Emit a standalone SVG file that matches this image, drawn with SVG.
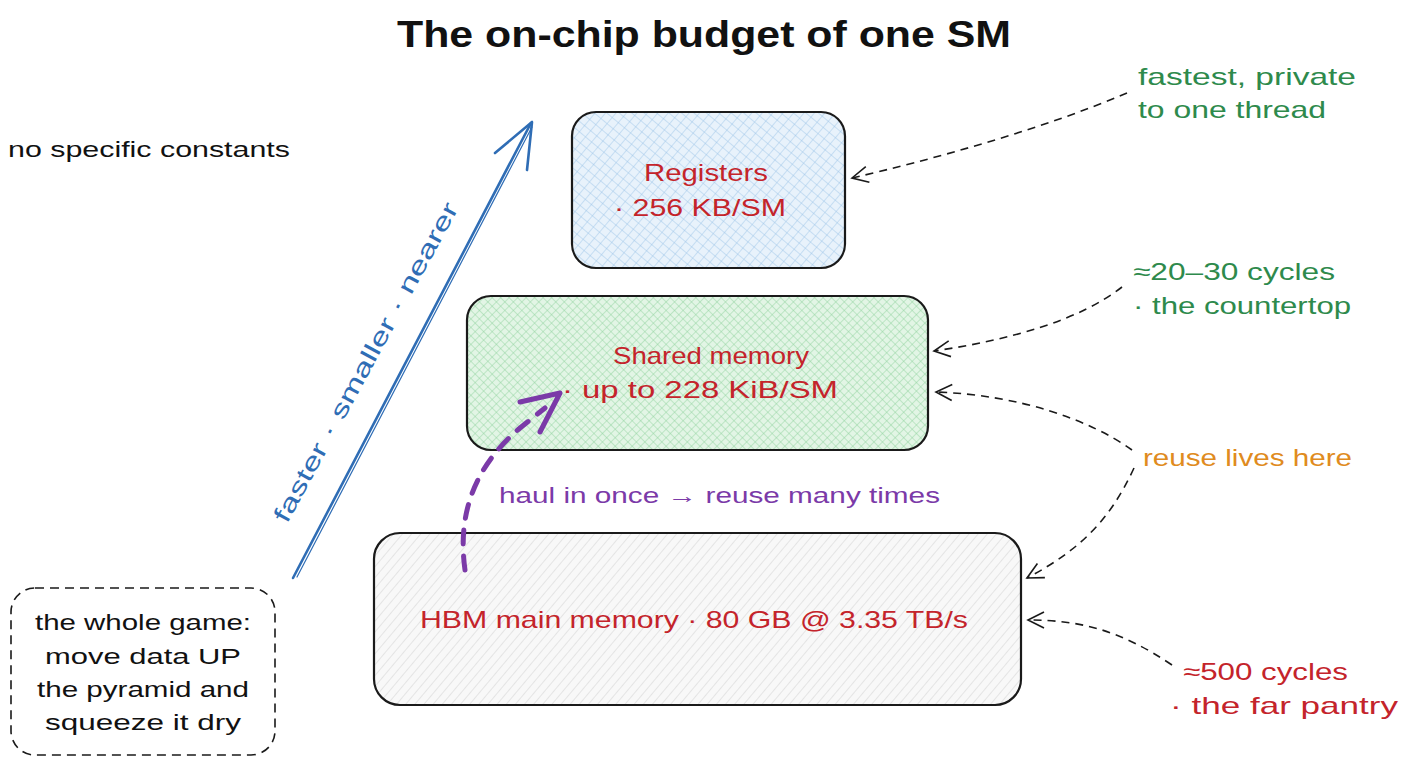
<svg xmlns="http://www.w3.org/2000/svg" width="1408" height="768" viewBox="0 0 1408 768">
<defs>
<style>
text{font-family:"Liberation Sans","DejaVu Sans",sans-serif;}
.title{font-size:37px;font-weight:bold;fill:#111;}
.red{fill:#c4242b;font-size:24px;}
.grn{fill:#2e8a4c;font-size:24px;}
.blk{fill:#111;font-size:22px;}
.box{stroke:#1a1a1a;stroke-width:2.2;}
.dash{fill:none;stroke:#1a1a1a;stroke-width:1.6;stroke-dasharray:8 6;}
</style>
<pattern id="pBlue" width="8" height="8" patternUnits="userSpaceOnUse" patternTransform="rotate(40)">
<rect width="8" height="8" fill="#e8f2fb"/>
<path d="M0,0H8M0,0V8" stroke="#9cc4e8" stroke-width="0.9"/>
</pattern>
<pattern id="pGreen" width="6" height="6" patternUnits="userSpaceOnUse" patternTransform="rotate(45)">
<rect width="6" height="6" fill="#e2f5e5"/>
<path d="M0,0H6M0,0V6" stroke="#8fd09c" stroke-width="0.9"/>
</pattern>
<pattern id="pGray" width="7" height="7" patternUnits="userSpaceOnUse" patternTransform="rotate(40)">
<rect width="7" height="7" fill="#f8f8f8"/>
<path d="M0,0V7" stroke="#cccccc" stroke-width="0.9"/>
</pattern>
<marker id="mOpen" viewBox="0 0 20 20" refX="18" refY="10" markerWidth="20" markerHeight="20" markerUnits="userSpaceOnUse" orient="auto">
<path d="M2,2 L18,10 L2,18" fill="none" stroke="#1a1a1a" stroke-width="1.6"/>
</marker>
</defs>
<rect width="1408" height="768" fill="#ffffff"/>

<text class="title" x="704" y="47" text-anchor="middle" textLength="614" lengthAdjust="spacingAndGlyphs">The on-chip budget of one SM</text>

<g id="note-constants">
<text class="blk" x="8" y="157" textLength="282" lengthAdjust="spacingAndGlyphs">no specific constants</text>
</g>

<g id="registers">
<rect class="box" x="572" y="112" width="273" height="156" rx="24" fill="url(#pBlue)"/>
<text class="red" x="706" y="181" text-anchor="middle" textLength="124" lengthAdjust="spacingAndGlyphs">Registers</text>
<text class="red" x="700" y="216" text-anchor="middle" textLength="172" lengthAdjust="spacingAndGlyphs">· 256 KB/SM</text>
</g>

<g id="shared">
<rect class="box" x="467" y="296" width="461" height="154" rx="24" fill="url(#pGreen)"/>
<text class="red" x="711" y="364" text-anchor="middle" textLength="196" lengthAdjust="spacingAndGlyphs">Shared memory</text>
<text class="red" x="700" y="398" text-anchor="middle" textLength="276" lengthAdjust="spacingAndGlyphs">· up to 228 KiB/SM</text>
</g>

<g id="hbm">
<rect class="box" x="374" y="533" width="647" height="172" rx="26" fill="url(#pGray)"/>
<text class="red" x="694" y="628" text-anchor="middle" textLength="548" lengthAdjust="spacingAndGlyphs">HBM main memory · 80 GB @ 3.35 TB/s</text>
</g>

<g id="game-note">
<rect x="11" y="588" width="264" height="167" rx="24" fill="none" stroke="#1a1a1a" stroke-width="1.6" stroke-dasharray="9 6"/>
<text class="blk" x="143" y="630" text-anchor="middle" textLength="216" lengthAdjust="spacingAndGlyphs">the whole game:</text>
<text class="blk" x="143" y="664" text-anchor="middle" textLength="196" lengthAdjust="spacingAndGlyphs">move data UP</text>
<text class="blk" x="143" y="697" text-anchor="middle" textLength="212" lengthAdjust="spacingAndGlyphs">the pyramid and</text>
<text class="blk" x="143" y="730" text-anchor="middle" textLength="196" lengthAdjust="spacingAndGlyphs">squeeze it dry</text>
</g>

<g id="ann-registers">
<text class="grn" x="1138" y="85" textLength="218" lengthAdjust="spacingAndGlyphs">fastest, private</text>
<text class="grn" x="1138" y="118" textLength="188" lengthAdjust="spacingAndGlyphs">to one thread</text>
</g>
<g id="ann-shared">
<text class="grn" x="1133" y="280" textLength="202" lengthAdjust="spacingAndGlyphs">≈20–30 cycles</text>
<text class="grn" x="1133" y="314" textLength="218" lengthAdjust="spacingAndGlyphs">· the countertop</text>
</g>
<g id="ann-reuse">
<text x="1143" y="466" fill="#e08b20" font-size="24" textLength="209" lengthAdjust="spacingAndGlyphs">reuse lives here</text>
</g>
<g id="ann-hbm">
<text class="red" x="1183" y="680" textLength="165" lengthAdjust="spacingAndGlyphs">≈500 cycles</text>
<text class="red" x="1170" y="714" textLength="228" lengthAdjust="spacingAndGlyphs">· the far pantry</text>
</g>

<g id="axis-label">
<text x="0" y="0" fill="#2f6db5" font-size="24" text-anchor="middle" transform="translate(373,366) rotate(-61.5)" textLength="360" lengthAdjust="spacingAndGlyphs">faster · smaller · nearer</text>
</g>

<g id="haul-label">
<text x="499" y="503" fill="#7b3aa8" font-size="22" textLength="441" lengthAdjust="spacingAndGlyphs">haul in once → reuse many times</text>
</g>

<g id="connectors">
<g stroke="#2f6db5" stroke-width="2.6" fill="none" stroke-linecap="round" stroke-linejoin="round">
<path d="M293,578 L531,123"/>
<path d="M297,577 L532,127" stroke-width="1.2"/>
<path d="M495,153 L532,122 L527,170"/>
</g>
<g stroke="#7b3aa8" stroke-width="5" fill="none" stroke-linecap="round" stroke-linejoin="round">
<path d="M465,570 C458,520 470,470 520,428 L545,408" stroke-dasharray="14 12"/>
<path d="M520,402 L560,393 L540,432"/>
</g>
<path class="dash" d="M1127,93 C1040,130 930,160 852,178" marker-end="url(#mOpen)"/>
<path class="dash" d="M1122,287 C1080,320 1010,340 934,351" marker-end="url(#mOpen)"/>
<path class="dash" d="M1132,450 C1090,420 1020,395 936,392" marker-end="url(#mOpen)"/>
<path class="dash" d="M1134,468 C1110,520 1080,550 1027,578" marker-end="url(#mOpen)"/>
<path class="dash" d="M1172,665 C1120,630 1080,620 1028,620" marker-end="url(#mOpen)"/>
</g>
</svg>
